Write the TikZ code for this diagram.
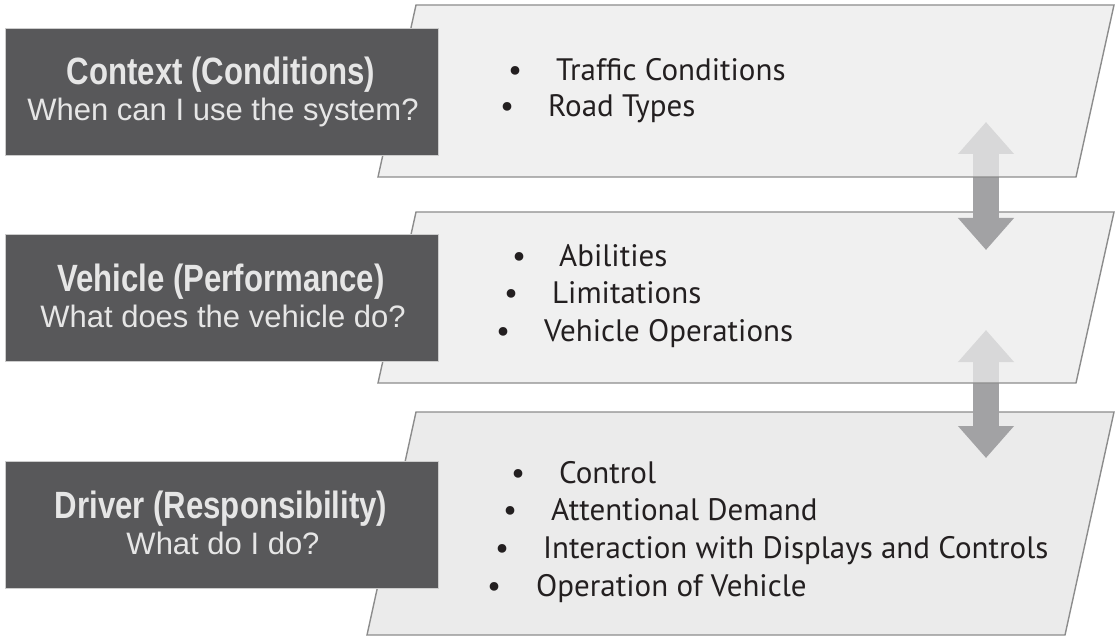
\documentclass[tikz,border=0pt]{standalone}
\usepackage{fontspec}
\setmainfont{PT Sans}
\newfontfamily\headfont{Liberation Sans}
\newfontfamily\headnarrow{Liberation Sans}[FakeStretch=0.82]
\usetikzlibrary{arrows.meta}

\definecolor{boxgray}{HTML}{58585A}
\definecolor{headtext}{HTML}{E6E6E6}
\definecolor{panelfill}{HTML}{EBEBEB}
\definecolor{paneledge}{HTML}{8C8C8C}
\definecolor{arrowgray}{HTML}{A2A2A4}
\definecolor{itemtext}{HTML}{231F20}

\begin{document}
\begin{tikzpicture}[x=1pt, y=-1pt,
    panel/.style={fill=panelfill, draw=paneledge, line width=1.4pt},
    overpanel/.style={panel, fill opacity=0.75},
    darkbox/.style={fill=boxgray, draw=gray!40, line width=0.8pt, minimum width=433pt, minimum height=127pt, inner sep=0pt},
    headline/.style={anchor=base, text=headtext, inner sep=0pt, font=\headnarrow\bfseries\fontsize{38}{42}\selectfont},
    subline/.style={anchor=base, text=headtext, inner sep=0pt, font=\headfont\fontsize{31}{36}\selectfont},
    dot/.style={anchor=base, text=itemtext, inner sep=0pt, font=\fontsize{31}{36}\selectfont},
    item/.style={anchor=base west, text=itemtext, inner sep=0pt, font=\fontsize{31}{36}\selectfont},
    updown/.style={draw=arrowgray, line width=26pt, {Triangle[length=32pt,width=54pt]}-{Triangle[length=32pt,width=54pt]}}]

    \useasboundingbox (0,0) rectangle (1116,636);

    % bottom panel and lower arrow
    \draw[panel] (416,412) -- (1114,412) -- (1065,635) -- (367,635) -- cycle;
    \coordinate (up2) at (986,330);
    \coordinate (dn2) at (986,458);
    \draw[updown] (up2) -- (dn2);

    % middle panel and upper arrow
    \draw[overpanel] (416,212) -- (1114,212) -- (1076,383) -- (378,383) -- cycle;
    \coordinate (up1) at (986,122);
    \coordinate (dn1) at (986,250);
    \draw[updown] (up1) -- (dn1);

    % top panel
    \draw[overpanel] (416,5) -- (1114,5) -- (1076,177) -- (378,177) -- cycle;

    % dark boxes
    \node[darkbox] (context) at (221.5,91.5) {};
    \node[headline] (contexthead) at (221,85) {Context (Conditions)};
    \node[subline] (contextsub) at (223,121) {When can I use the system?};

    \node[darkbox] (vehicle) at (221.5,298) {};
    \node[headline] (vehiclehead) at (221,291.5) {Vehicle (Performance)};
    \node[subline] (vehiclesub) at (223,327.5) {What does the vehicle do?};

    \node[darkbox] (driver) at (221.5,524.5) {};
    \node[headline] (driverhead) at (221,518) {Driver (Responsibility)};
    \node[subline] (driversub) at (223,554) {What do I do?};

    % context items
    \node[dot] (c1) at (515,81) {\textbullet};
    \node[item] (traffic) at (556,81) {Traffic Conditions};
    \node[dot] (c2) at (507,117) {\textbullet};
    \node[item] (road) at (548,117) {Road Types};

    % vehicle items
    \node[dot] (v1) at (519,267) {\textbullet};
    \node[item] (abilities) at (559,267) {Abilities};
    \node[dot] (v2) at (511,304) {\textbullet};
    \node[item] (limits) at (552,304) {Limitations};
    \node[dot] (v3) at (503,341) {\textbullet};
    \node[item] (operations) at (544,341) {Vehicle Operations};

    % driver items
    \node[dot] (d1) at (518,483) {\textbullet};
    \node[item] (control) at (559,483) {Control};
    \node[dot] (d2) at (510,520) {\textbullet};
    \node[item] (demand) at (551,520) {Attentional Demand};
    \node[dot] (d3) at (502,558) {\textbullet};
    \node[item] (interaction) at (543,558) {Interaction with Displays and Controls};
    \node[dot] (d4) at (494,596) {\textbullet};
    \node[item] (operation) at (536,596) {Operation of Vehicle};

\end{tikzpicture}
\end{document}
